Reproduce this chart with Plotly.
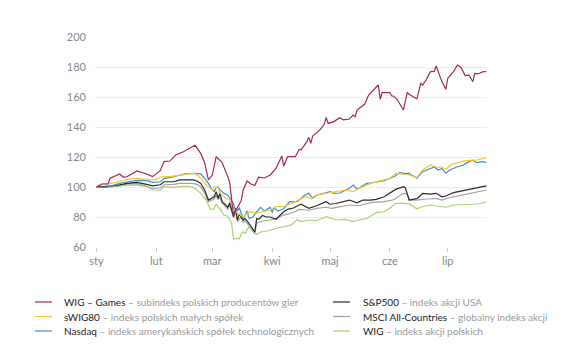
import plotly.graph_objects as go

# ---------------- data ----------------
month_ticks = ["2020-01-01", "2020-02-01", "2020-03-01", "2020-04-01",
               "2020-05-01", "2020-06-01", "2020-07-01"]
month_labels = ["sty", "lut", "mar", "kwi", "maj", "cze", "lip"]

games_dates = [
    "2020-01-01", "2020-01-04", "2020-01-07", "2020-01-08", "2020-01-13", "2020-01-15",
    "2020-01-17", "2020-01-22", "2020-01-27", "2020-01-30", "2020-02-03", "2020-02-05",
    "2020-02-08", "2020-02-11", "2020-02-15", "2020-02-18", "2020-02-21", "2020-02-24",
    "2020-02-26", "2020-02-28", "2020-03-01", "2020-03-03", "2020-03-06", "2020-03-09",
    "2020-03-10", "2020-03-11", "2020-03-12", "2020-03-13", "2020-03-16", "2020-03-17",
    "2020-03-19", "2020-03-21", "2020-03-23", "2020-03-25", "2020-03-28", "2020-03-31",
    "2020-04-03", "2020-04-06", "2020-04-07", "2020-04-09", "2020-04-13", "2020-04-15",
    "2020-04-16", "2020-04-19", "2020-04-20", "2020-04-21", "2020-04-22", "2020-04-26",
    "2020-04-28", "2020-04-29", "2020-04-30", "2020-05-03", "2020-05-06", "2020-05-08",
    "2020-05-11", "2020-05-13", "2020-05-14", "2020-05-15", "2020-05-18", "2020-05-19",
    "2020-05-21", "2020-05-23", "2020-05-26", "2020-05-27", "2020-05-28", "2020-06-01",
    "2020-06-02", "2020-06-03", "2020-06-05", "2020-06-08", "2020-06-10", "2020-06-13",
    "2020-06-15", "2020-06-17", "2020-06-18", "2020-06-20", "2020-06-22", "2020-06-24",
    "2020-06-25", "2020-06-27", "2020-06-28", "2020-06-30", "2020-07-01", "2020-07-04",
    "2020-07-06", "2020-07-08", "2020-07-10", "2020-07-12", "2020-07-14", "2020-07-15",
    "2020-07-17", "2020-07-19", "2020-07-21"]
games_vals = [
    100, 102, 102, 105.8, 108.7, 106.5,
    107, 110.7, 108.7, 106.9, 110.9, 116.9,
    117.3, 121.3, 123.5, 125.8, 127.8, 122.4,
    116.2, 104.7, 108, 120.2, 116.5, 106.9,
    103, 92, 81, 84, 91, 98,
    104, 102, 101, 106.5, 106, 108,
    112.4, 120.7, 114, 120.2, 120.2, 125.1,
    124.8, 130.2, 133.1, 129.1, 134, 138.4,
    141.8, 146.4, 142.4, 143.6, 146.2, 144.7,
    145.3, 148, 146.9, 151.3, 154.7, 155.3,
    161.3, 164, 168, 158.4, 162.9, 163,
    160.7, 160.5, 158, 151.3, 162.9, 160.2,
    158.7, 169.1, 168, 171.8, 176.9, 177,
    180.7, 173.6, 170.2, 165.1, 172.5, 176.9,
    181.3, 179.5, 174.2, 174.5, 170.2, 175.8,
    175.5, 176.7, 177]

swig_dates = [
    "2020-01-01", "2020-01-03", "2020-01-08", "2020-01-11", "2020-01-13", "2020-01-17",
    "2020-01-22", "2020-01-27", "2020-01-29", "2020-02-01", "2020-02-04", "2020-02-08",
    "2020-02-13", "2020-02-18", "2020-02-21", "2020-02-24", "2020-02-26", "2020-02-28",
    "2020-03-01", "2020-03-02", "2020-03-04", "2020-03-05", "2020-03-08", "2020-03-10",
    "2020-03-12", "2020-03-14", "2020-03-17", "2020-03-20", "2020-03-24", "2020-03-27",
    "2020-03-31", "2020-04-03", "2020-04-07", "2020-04-12", "2020-04-15", "2020-04-18",
    "2020-04-21", "2020-04-24", "2020-04-29", "2020-05-04", "2020-05-09", "2020-05-13",
    "2020-05-16", "2020-05-22", "2020-05-27", "2020-06-01", "2020-06-04", "2020-06-08",
    "2020-06-11", "2020-06-15", "2020-06-18", "2020-06-22", "2020-06-25", "2020-06-28",
    "2020-06-30", "2020-07-03", "2020-07-06", "2020-07-10", "2020-07-16", "2020-07-19",
    "2020-07-21"]
swig_vals = [
    100, 102, 102.2, 103.1, 103.5, 105.1,
    105.8, 105.1, 104.7, 105.1, 106.9, 106.9,
    108, 108.7, 109.1, 106, 102.4, 100.2,
    98, 100.2, 99.5, 95.8, 92.5, 91.3,
    85.8, 82.4, 80.2, 83.5, 82.5, 83.5,
    84.7, 86.9, 87, 89.6, 91.3, 93.5,
    92.5, 94.7, 95.8, 96.9, 98, 97,
    99.1, 102.4, 104, 105.8, 109.1, 108.5,
    108, 106.4, 111.3, 114.7, 113.3, 113.3,
    112, 115, 116.2, 117.6, 118, 119.1,
    119.6]

nasdaq_dates = [
    "2020-01-01", "2020-01-06", "2020-01-13", "2020-01-17", "2020-01-22", "2020-01-27",
    "2020-01-30", "2020-02-03", "2020-02-05", "2020-02-10", "2020-02-13", "2020-02-16",
    "2020-02-20", "2020-02-24", "2020-02-26", "2020-02-28", "2020-03-01", "2020-03-02",
    "2020-03-03", "2020-03-04", "2020-03-05", "2020-03-07", "2020-03-09", "2020-03-11",
    "2020-03-12", "2020-03-13", "2020-03-15", "2020-03-17", "2020-03-19", "2020-03-20",
    "2020-03-22", "2020-03-24", "2020-03-26", "2020-03-28", "2020-03-31", "2020-04-01",
    "2020-04-02", "2020-04-04", "2020-04-07", "2020-04-10", "2020-04-14", "2020-04-15",
    "2020-04-18", "2020-04-20", "2020-04-22", "2020-04-24", "2020-04-29", "2020-05-01",
    "2020-05-03", "2020-05-06", "2020-05-11", "2020-05-13", "2020-05-15", "2020-05-20",
    "2020-05-24", "2020-05-29", "2020-06-01", "2020-06-04", "2020-06-06", "2020-06-08",
    "2020-06-11", "2020-06-15", "2020-06-18", "2020-06-22", "2020-06-24", "2020-06-26",
    "2020-06-28", "2020-06-30", "2020-07-02", "2020-07-06", "2020-07-09", "2020-07-12",
    "2020-07-14", "2020-07-16", "2020-07-19", "2020-07-21"]
nasdaq_vals = [
    100, 99.8, 102.4, 103.5, 104.4, 104.2,
    103.1, 103.5, 105.6, 106.9, 108, 108.7,
    109.1, 108.8, 105.8, 102.4, 98, 97,
    99.5, 100.2, 98, 95.8, 94.5, 91,
    89, 83, 86, 79, 84, 79,
    80, 83.5, 86.4, 84, 86.5, 83,
    86, 84, 85.5, 90.2, 90.2, 91.3,
    94.7, 95.8, 92.5, 94.5, 96, 96.9,
    95.8, 96, 99.1, 101.3, 98.5, 102.4,
    103, 104.2, 105.8, 107.5, 109.6, 109.1,
    109.1, 105.8, 110.2, 112.4, 113.3, 111.3,
    112.4, 109.1, 111.3, 113.5, 114.5, 116.9,
    117.9, 116.2, 116.9, 116.2]

sp500_dates = [
    "2020-01-01", "2020-01-06", "2020-01-11", "2020-01-17", "2020-01-22", "2020-01-27",
    "2020-01-30", "2020-02-03", "2020-02-05", "2020-02-10", "2020-02-13", "2020-02-20",
    "2020-02-22", "2020-02-24", "2020-02-26", "2020-02-28", "2020-03-02", "2020-03-03",
    "2020-03-04", "2020-03-05", "2020-03-06", "2020-03-08", "2020-03-09", "2020-03-10",
    "2020-03-12", "2020-03-13", "2020-03-14", "2020-03-15", "2020-03-17", "2020-03-18",
    "2020-03-20", "2020-03-21", "2020-03-23", "2020-03-24", "2020-03-25", "2020-03-27",
    "2020-03-29", "2020-03-31", "2020-04-03", "2020-04-07", "2020-04-09", "2020-04-12",
    "2020-04-15", "2020-04-16", "2020-04-20", "2020-04-24", "2020-04-29", "2020-05-01",
    "2020-05-04", "2020-05-08", "2020-05-11", "2020-05-15", "2020-05-18", "2020-05-22",
    "2020-05-25", "2020-05-29", "2020-06-01", "2020-06-04", "2020-06-08", "2020-06-09",
    "2020-06-11", "2020-06-15", "2020-06-18", "2020-06-22", "2020-06-25", "2020-06-28",
    "2020-06-30", "2020-07-04", "2020-07-09", "2020-07-12", "2020-07-16", "2020-07-21"]
sp500_vals = [
    100, 100.5, 101, 102.4, 103.1, 101.8,
    100.7, 101.5, 103.5, 103.5, 104.7, 104.7,
    104, 102.4, 98, 91.3, 93.5, 96.9,
    92.5, 95.8, 90.2, 88, 86.4, 89.5,
    80.2, 86, 78, 82, 78, 79,
    75.8, 74, 70, 79, 78.5, 81,
    80, 80, 78.5, 83.5, 85.1, 86,
    88, 88.5, 85.8, 87.5, 90.2, 88.5,
    89, 90.2, 91.3, 89.5, 91.3, 91.3,
    91.8, 93.5, 95.8, 98.4, 100.2, 99.5,
    91.3, 92.2, 95.8, 95.3, 95.8, 93.5,
    94, 96.3, 97.6, 98.4, 99.6, 100.7]

msci_dates = [
    "2020-01-01", "2020-01-11", "2020-01-17", "2020-01-22", "2020-01-27", "2020-01-30",
    "2020-02-03", "2020-02-05", "2020-02-10", "2020-02-13", "2020-02-20", "2020-02-22",
    "2020-02-24", "2020-02-26", "2020-02-28", "2020-03-02", "2020-03-03", "2020-03-04",
    "2020-03-05", "2020-03-06", "2020-03-09", "2020-03-10", "2020-03-12", "2020-03-13",
    "2020-03-14", "2020-03-16", "2020-03-17", "2020-03-18", "2020-03-20", "2020-03-23",
    "2020-03-24", "2020-03-26", "2020-03-28", "2020-03-31", "2020-04-03", "2020-04-07",
    "2020-04-12", "2020-04-15", "2020-04-20", "2020-04-24", "2020-04-29", "2020-05-02",
    "2020-05-08", "2020-05-11", "2020-05-16", "2020-05-22", "2020-05-29", "2020-06-03",
    "2020-06-08", "2020-06-10", "2020-06-11", "2020-06-15", "2020-06-20", "2020-06-25",
    "2020-06-28", "2020-07-02", "2020-07-09", "2020-07-16", "2020-07-21"]
msci_vals = [
    100, 100.5, 102, 102.2, 100.5, 99,
    99.5, 101.5, 101.8, 102.4, 102.4, 101.8,
    100, 95.8, 90.2, 92, 94.5, 91.5,
    93.5, 89.5, 85, 88, 79.5, 84,
    77, 80, 76.5, 77.5, 74.5, 69,
    76.2, 77, 77.5, 78, 79, 81.3,
    83, 85.1, 84.5, 85.8, 86.5, 85.8,
    87.5, 88, 87.5, 89.6, 90.2, 91.5,
    95.8, 95.5, 91.3, 91.3, 92, 92.4,
    91.3, 93, 94.7, 96.8, 98]

wig_dates = [
    "2020-01-01", "2020-01-06", "2020-01-13", "2020-01-17", "2020-01-22", "2020-01-27",
    "2020-01-30", "2020-02-03", "2020-02-05", "2020-02-10", "2020-02-13", "2020-02-18",
    "2020-02-21", "2020-02-24", "2020-02-26", "2020-02-27", "2020-02-28", "2020-02-29",
    "2020-03-02", "2020-03-03", "2020-03-04", "2020-03-05", "2020-03-07", "2020-03-09",
    "2020-03-10", "2020-03-11", "2020-03-12", "2020-03-13", "2020-03-15", "2020-03-16",
    "2020-03-17", "2020-03-18", "2020-03-19", "2020-03-20", "2020-03-22", "2020-03-23",
    "2020-03-24", "2020-03-26", "2020-03-29", "2020-03-31", "2020-04-03", "2020-04-05",
    "2020-04-07", "2020-04-11", "2020-04-14", "2020-04-16", "2020-04-20", "2020-04-24",
    "2020-04-29", "2020-05-04", "2020-05-09", "2020-05-13", "2020-05-15", "2020-05-20",
    "2020-05-25", "2020-05-29", "2020-06-01", "2020-06-04", "2020-06-08", "2020-06-11",
    "2020-06-15", "2020-06-18", "2020-06-22", "2020-06-25", "2020-06-30", "2020-07-04",
    "2020-07-09", "2020-07-14", "2020-07-18", "2020-07-21"]
wig_vals = [
    100, 99.8, 100.5, 101.3, 101.3, 100.2,
    98, 98, 100.2, 99.8, 100.2, 100.5,
    99, 95.8, 92.5, 91.3, 88, 85,
    85.5, 88.7, 86.5, 85.5, 81.3, 80.5,
    78, 75.8, 65, 65.8, 65.5, 69.1,
    70.2, 69, 71.3, 73.5, 70.5, 69.1,
    68.5, 70, 70.5, 71.3, 72.5, 73,
    73.5, 74.7, 78.4, 77, 78, 77.5,
    80.2, 78, 78.4, 76.9, 77.8, 79,
    82.9, 83.5, 85.8, 89.1, 89.1, 88.7,
    85.5, 87, 88, 87.5, 86.5, 88,
    88, 88.5, 89, 90.2]

# legend labels and descriptions
labels = ["WIG – Games", "sWIG80", "Nasdaq", "S&P500", "MSCI All-Countries", "WIG"]
descriptions = ["subindeks polskich producentów gier", "indeks polskich małych spółek",
                "indeks amerykańskich spółek technologicznych", "indeks akcji USA",
                "globalny indeks akcji", "indeks akcji polskich"]
colors = ["#a3285a", "#f9c62c", "#3a8fd8", "#2a2a2a", "#a3a3a3", "#a5d46a"]

# ---------------- figure ----------------
W, H = 580, 360
ML, MR, MT, MB = 95, 93, 37, 113
PW, PH = W - ML - MR, H - MT - MB

def px_x(px):
    return (px - ML) / PW

def px_y(py):
    return (H - MB - py) / PH

series_data = [
    (games_dates, games_vals), (swig_dates, swig_vals), (nasdaq_dates, nasdaq_vals),
    (sp500_dates, sp500_vals), (msci_dates, msci_vals), (wig_dates, wig_vals),
]
draw_order = [5, 4, 3, 2, 1, 0]

fig = go.Figure()
for i in draw_order:
    d, v = series_data[i]
    fig.add_trace(go.Scatter(
        x=d, y=v, mode="lines",
        line=dict(color=colors[i], width=1.2),
        name=f"{labels[i]} – {descriptions[i]}",
        showlegend=False,
    ))

# two-column legend (drawn with shapes + annotations)
col_sample_x = [35, 333]
col_text_x = [62, 361]
row_y = [302, 316.5, 331]
shapes, annots = [], []
for i in range(6):
    c, r = divmod(i, 3)
    y = px_y(row_y[r])
    shapes.append(dict(type="line", xref="paper", yref="paper",
                       x0=px_x(col_sample_x[c]), x1=px_x(col_sample_x[c] + 17),
                       y0=y, y1=y, line=dict(color=colors[i], width=1.2)))
    annots.append(dict(xref="paper", yref="paper", x=px_x(col_text_x[c]), y=y,
                       xanchor="left", yanchor="middle", showarrow=False,
                       text=f"<span style='color:#222'>{labels[i]}</span> – {descriptions[i]}",
                       font=dict(size=10, color="#9a9a9a")))

fig.update_layout(
    width=W, height=H,
    margin=dict(l=ML, r=MR, t=MT, b=MB),
    paper_bgcolor="white", plot_bgcolor="white",
    font=dict(family="Lato, 'Open Sans', sans-serif", size=11, color="#888"),
    showlegend=False,
    shapes=shapes, annotations=annots,
    xaxis=dict(
        type="date",
        range=["2019-12-31 05:00", "2020-07-21 08:00"],
        tickvals=month_ticks, ticktext=month_labels,
        ticks="outside", ticklen=4, tickcolor="#cccccc",
        showgrid=False, zeroline=False, showline=False,
        tickfont=dict(size=11, color="#888"),
    ),
    yaxis=dict(
        range=[60, 200], dtick=20,
        showgrid=True, gridcolor="#ececec", gridwidth=1,
        zeroline=False, showline=False,
        tickfont=dict(size=11, color="#888"),
        ticklabelstandoff=8,
    ),
)

fig.write_html("out.html",
               config={"displayModeBar": False},
               post_script="document.body.style.margin='0';document.body.style.overflow='hidden';")
